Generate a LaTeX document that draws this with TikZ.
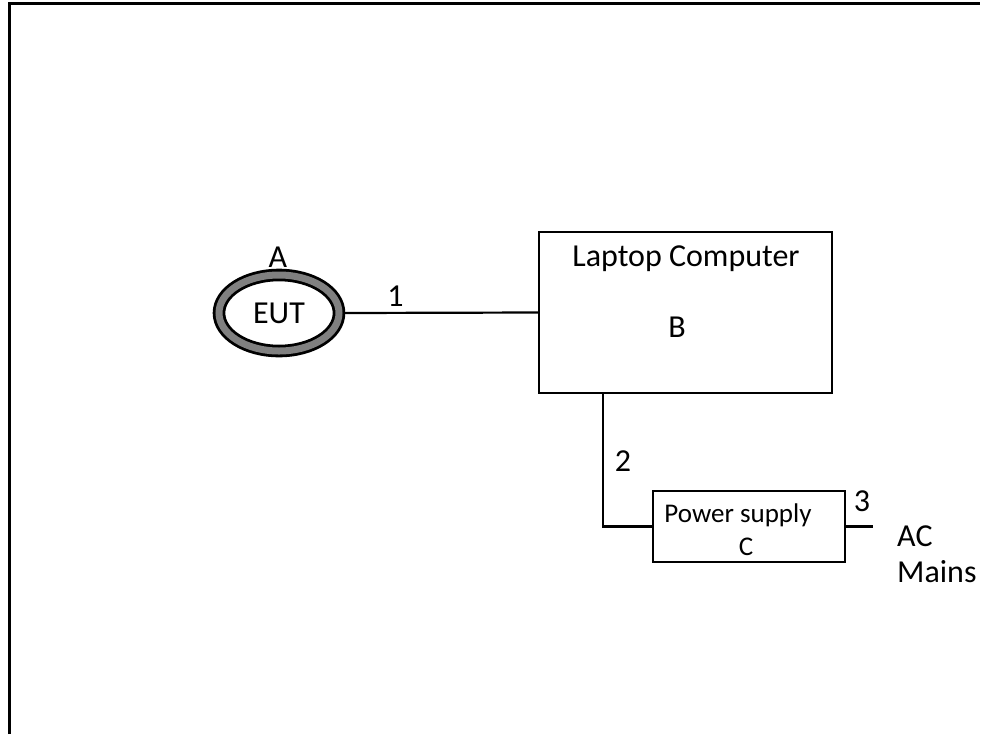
\documentclass[tikz,border=0pt]{standalone}
\usepackage{fontspec}
\setmainfont{Carlito}
\usetikzlibrary{shapes.geometric, positioning}
\definecolor{RG}{RGB}{128,128,128}

\begin{document}
\begin{tikzpicture}[x=1pt, y=-1pt,
  ubox/.style={draw=black, line width=2.4pt, fill=white, inner sep=0pt},
  lbl/.style={font=\fontsize{32}{36}\selectfont, inner sep=0pt},
  slbl/.style={font=\fontsize{27}{31}\selectfont, inner sep=0pt},
  cab/.style={line width=2.2pt, draw=black}
]
\fill[white] (0,0) rectangle (981,734);
\useasboundingbox (0,0) rectangle (981,734);

% frame
\draw[line width=3pt] (9.5,734) -- (9.5,3) -- (980,3);

% EUT ring
\node[ellipse, draw=black, line width=2.8pt, double=RG, double distance=7pt,
      minimum width=120pt, minimum height=76pt, outer sep=6pt, inner sep=0pt,
      font=\fontsize{32}{36}\selectfont] (eut) at (279,313) {EUT};
\node[lbl] (lblA) at (278,257) {A};

% laptop
\node[ubox, minimum width=293pt, minimum height=161pt] (laptop) at (685.5,312.5) {};
\node[lbl] (laptoptxt) at (686,259) {Laptop Computer};
\node[lbl] (laptopB) at (677,327) {B};

% power supply
\node[ubox, minimum width=192pt, minimum height=71pt] (psu) at (749,526.5) {};
\node[slbl] (psutxt) at (738,515) {Power supply};
\node[slbl] (psuC) at (746,547) {C};

% cables
\coordinate (ac) at (873,526.5);
\draw[cab] (eut.east) -- (laptop.west);
\draw[cab] (laptop.south west) ++(65,0) |- (psu.west);
\draw[cab] (psu.east) -- (ac);

\node[lbl] (n1) at (395.5,296) {1};
\node[lbl] (n2) at (623,461) {2};
\node[lbl] (n3) at (862,501) {3};
\node[lbl, align=left, anchor=west] (mains) at (897,554) {AC\\Mains};
\end{tikzpicture}
\end{document}
